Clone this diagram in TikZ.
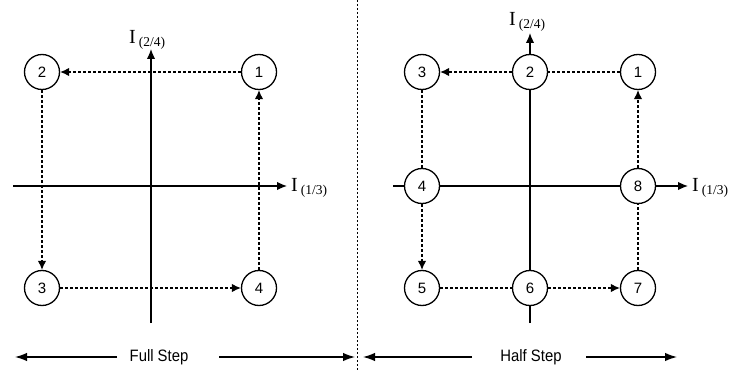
\documentclass[tikz,border=0pt]{standalone}
\usepackage{fontspec}
\setmainfont{Liberation Sans}
\newfontfamily\tms{Liberation Serif}
\newfontfamily\narrowsans[FakeStretch=0.9]{Liberation Sans}
\usetikzlibrary{arrows.meta}
\tikzset{
  x=1pt, y=-1pt,
  st/.style={circle, draw, line width=1.3pt, fill=white, minimum size=35pt, inner sep=0pt, font=\fontsize{15}{15}\selectfont},
  axis/.style={line width=1.3pt},
  axarr/.style={axis, -{Latex[length=10pt,width=8.5pt]}},
  dotln/.style={line width=1.2pt, dash pattern=on 3pt off 2pt},
  dotarr/.style={dotln, -{Latex[length=9pt,width=8.5pt]}},
  bigarr/.style={line width=1.3pt, -{Latex[length=12pt,width=8.5pt]}},
  lbl/.style={anchor=base west, inner sep=0pt},
  captxt/.style={font=\narrowsans\fontsize{16.5}{16.5}\selectfont, inner sep=0pt}
}
\newcommand{\ilab}[1]{{\tms\fontsize{20}{20}\selectfont I\hspace{3pt}\raisebox{-2.5pt}{\fontsize{13.5}{13.5}\selectfont (#1)}}}
\begin{document}
\begin{tikzpicture}
\useasboundingbox (0,0) rectangle (735,371);
% divider
\coordinate (dtop) at (357,0);
\coordinate (dbot) at (357,371);
\draw[line width=0.8pt, dash pattern=on 2pt off 2pt] (dtop) -- (dbot);

% ---------- Full step ----------
\coordinate (lvb) at (151,323);
\coordinate (lvt) at (151,49);
\coordinate (lhl) at (13,186);
\coordinate (lhr) at (287,186);
\draw[axarr] (lvb) -- (lvt);
\draw[axarr] (lhl) -- (lhr);
\node[lbl] (ly) at (129,44) {\ilab{2/4}};
\node[lbl] (lx) at (291,192) {\ilab{1/3}};

\node[st] (a1) at (259,72) {1};
\node[st] (a2) at (42,72) {2};
\node[st] (a3) at (42,288) {3};
\node[st] (a4) at (259,288) {4};
\draw[dotarr] (a1) -- (a2);
\draw[dotarr] (a2) -- (a3);
\draw[dotarr] (a3) -- (a4);
\draw[dotarr] (a4) -- (a1);

% ---------- Half step ----------
\coordinate (rvb) at (530,323);
\coordinate (rvt) at (530,33);
\coordinate (rhl) at (393,186);
\coordinate (rhr) at (688,186);
\draw[axarr] (rvb) -- (rvt);
\draw[axarr] (rhl) -- (rhr);
\node[lbl] (ry) at (509,26) {\ilab{2/4}};
\node[lbl] (rx) at (692,192) {\ilab{1/3}};

\node[st] (b1) at (638,72) {1};
\node[st] (b2) at (530,72) {2};
\node[st] (b3) at (422,72) {3};
\node[st] (b4) at (422,186) {4};
\node[st] (b5) at (422,288) {5};
\node[st] (b6) at (530,288) {6};
\node[st] (b7) at (638,288) {7};
\node[st] (b8) at (638,186) {8};
\draw[dotln] (b1) -- (b2);
\draw[dotarr] (b2) -- (b3);
\draw[dotln] (b3) -- (b4);
\draw[dotarr] (b4) -- (b5);
\draw[dotln] (b5) -- (b6);
\draw[dotarr] (b6) -- (b7);
\draw[dotln] (b7) -- (b8);
\draw[dotarr] (b8) -- (b1);

% ---------- bottom captions ----------
\node[captxt] (full) at (159,357) {Full Step};
\coordinate (fl) at (15,357);
\coordinate (fr) at (355,357);
\coordinate (fls) at (117,357);
\coordinate (frs) at (219,357);
\draw[bigarr] (fls) -- (fl);
\draw[bigarr] (frs) -- (fr);

\node[captxt] (half) at (531,357) {Half Step};
\coordinate (hl) at (363,357);
\coordinate (hr) at (677,357);
\coordinate (hls) at (472,357);
\coordinate (hrs) at (586,357);
\draw[bigarr] (hls) -- (hl);
\draw[bigarr] (hrs) -- (hr);
\end{tikzpicture}
\end{document}
